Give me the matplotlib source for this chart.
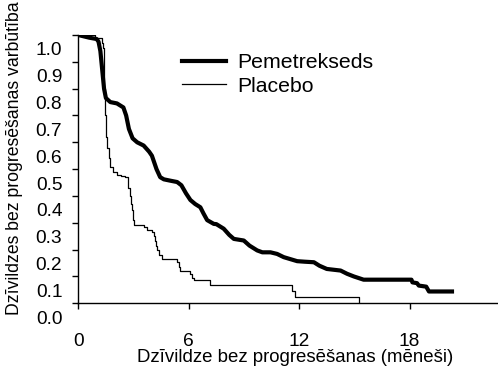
import matplotlib
matplotlib.use("Agg")
import matplotlib.pyplot as plt
import matplotlib.transforms as mtransforms

plt.rcParams['font.family'] = ['Liberation Sans', 'DejaVu Sans']

# Kaplan-Meier estimates read as (months, probability)
pem_time = [0, 0.3, 0.6, 1.0, 1.1, 1.2, 1.3, 1.4, 1.5, 1.74, 2.1, 2.45, 2.6, 2.75,
            2.95, 3.2, 3.55, 3.85, 4.0, 4.25, 4.45, 4.65, 5.0, 5.37, 5.6, 5.85,
            6.09, 6.35, 6.63, 6.8, 7.0, 7.36, 7.5, 7.9, 8.2, 8.45, 8.99, 9.3,
            9.72, 10.0, 10.44, 10.8, 11.16, 11.5, 11.89, 12.3, 12.8, 13.1, 13.5,
            14.25, 14.6, 14.97, 15.5, 18.1, 18.15, 18.4, 18.5, 18.9, 19.05, 20.3]
pem_surv = [1.0, 0.995, 0.99, 0.985, 0.975, 0.94, 0.87, 0.80, 0.765, 0.75, 0.745,
            0.73, 0.70, 0.65, 0.615, 0.60, 0.588, 0.565, 0.55, 0.50, 0.47, 0.462,
            0.457, 0.452, 0.44, 0.41, 0.385, 0.37, 0.358, 0.335, 0.31, 0.296,
            0.295, 0.278, 0.255, 0.240, 0.234, 0.215, 0.197, 0.19, 0.19, 0.184,
            0.172, 0.165, 0.157, 0.155, 0.153, 0.14, 0.128, 0.122, 0.11, 0.1,
            0.088, 0.088, 0.078, 0.075, 0.066, 0.062, 0.044, 0.044]

pla_time = [0, 0.9, 1.3, 1.35, 1.4, 1.45, 1.5, 1.55, 1.65, 1.74, 1.9, 2.1, 2.3,
            2.56, 2.7, 2.83, 2.88, 2.92, 2.97, 3.01, 3.55, 3.73, 4.0, 4.1, 4.19,
            4.24, 4.28, 4.4, 4.55, 5.37, 5.45, 5.55, 6.09, 6.2, 6.27, 7.18,
            11.62, 11.75, 12.03, 15.24]
pla_surv = [1.0, 0.99, 0.97, 0.95, 0.80, 0.70, 0.62, 0.58, 0.54, 0.507, 0.49,
            0.48, 0.475, 0.47, 0.43, 0.40, 0.37, 0.346, 0.31, 0.29, 0.284,
            0.275, 0.265, 0.25, 0.234, 0.215, 0.197, 0.18, 0.166, 0.153, 0.135,
            0.122, 0.11, 0.095, 0.085, 0.069, 0.045, 0.022, 0.022, 0.0]

x_ticks = [0, 6, 12, 18]
y_ticks = [0.0, 0.1, 0.2, 0.3, 0.4, 0.5, 0.6, 0.7, 0.8, 0.9, 1.0]

fig = plt.figure(figsize=(4.98, 3.67), dpi=100)
ax = fig.add_axes([0.1572, 0.1736, 0.8428, 0.731])

ax.plot(pem_time, pem_surv, color='black', linewidth=3.0,
        solid_joinstyle='round', label='Pemetrekseds')
ax.plot(pla_time, pla_surv, color='black', linewidth=0.9,
        drawstyle='steps-post', label='Placebo')

ax.set_xlim(0, 22.8)
ax.set_ylim(0, 1.0)
ax.set_xticks(x_ticks)
ax.set_yticks(y_ticks)
ax.set_xticklabels([str(t) for t in x_ticks])
ax.set_yticklabels([f"{t:.1f}" for t in y_ticks])

for side in ('top', 'right'):
    ax.spines[side].set_visible(False)
for side in ('left', 'bottom'):
    ax.spines[side].set_linewidth(1.0)

ax.tick_params(axis='both', direction='out', length=4.5, width=1.0,
               labelsize=13.8, colors='black')
ax.tick_params(axis='x', pad=17)
ax.tick_params(axis='y', pad=7)

# y tick labels sit a little below their ticks
shift = mtransforms.ScaledTranslation(0, -10 / 72, fig.dpi_scale_trans)
for lab in ax.get_yticklabels():
    lab.set_transform(lab.get_transform() + shift)

leg = ax.legend(loc='center left', bbox_to_anchor=(0.2464, 0.853),
                frameon=False, fontsize=15.3, handlelength=2.1,
                handletextpad=0.5, labelspacing=0.2, borderpad=0,
                borderaxespad=0)

fig.text(295 / 498, 0.014, 'Dzīvildze bez progresēšanas (mēneši)',
         ha='center', va='baseline', fontsize=13.4)
fig.text(15 / 498, 1 - 158.5 / 367, 'Dzīvildzes bez progresēšanas varbūtība',
         ha='center', va='center', rotation=90, fontsize=12.7)

fig.savefig('out.png', dpi=100)
